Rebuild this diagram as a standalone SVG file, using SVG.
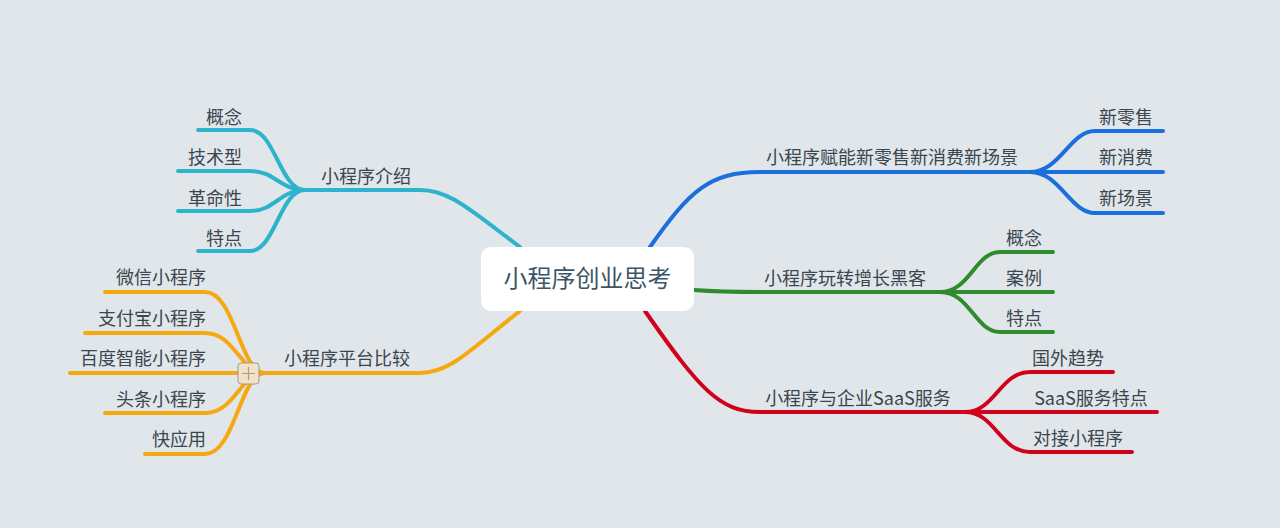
<svg xmlns="http://www.w3.org/2000/svg" width="1280" height="528" viewBox="0 0 1280 528">
<style>
.c{fill:none;stroke-width:4;stroke-linecap:round}
.t{font-family:"Noto Sans CJK SC","Noto Sans",sans-serif;font-size:18px;fill:#3a4650}
.b{stroke:#1a6fdc}.g{stroke:#2e8b2e}.r{stroke:#d0021b}.y{stroke:#f5a80f}.k{stroke:#2db3cc}
</style>
<rect width="1280" height="528" fill="#e1e6ea"/>
<g id="connectors">
<path class="c b" d="M650,247 C690,190 710,172 760,172 L1030,172"/>
<path class="c b" d="M1030,172 C1060,172 1070,131 1095,131 L1163,131 M1030,172 L1163,172 M1030,172 C1060,172 1070,213 1095,213 L1163,213"/>
<path class="c g" d="M694,290 C720,292 740,292 760,292 L940,292"/>
<path class="c g" d="M940,292 C970,292 975,252 1000,252 L1053,252 M940,292 L1053,292 M940,292 C970,292 975,332 1000,332 L1053,332"/>
<path class="c r" d="M645,311 C700,390 720,412 760,412 L965,412"/>
<path class="c r" d="M965,412 C995,412 1000,372 1030,372 L1113,372 M965,412 L1157,412 M965,412 C995,412 1000,452 1030,452 L1132,452"/>
<path class="c k" d="M520,247 C470,210 450,190 420,190 L305,190"/>
<path class="c k" d="M305,190 C280,190 275,130 250,130 L198,130 M305,190 C280,190 275,171 250,171 L178,171 M305,190 C280,190 275,211 250,211 L178,211 M305,190 C280,190 275,251 250,251 L198,251"/>
<path class="c y" d="M520,311 C470,350 450,373 420,373 L265,373"/>
<path class="c y" d="M265,373 C240,373 235,292 205,292 L105,292 M265,373 C240,373 235,333 205,333 L85,333 M265,373 L70,373 M265,373 C240,373 235,413 205,413 L105,413 M265,373 C240,373 235,454 205,454 L145,454"/>
</g>
<g id="root"><rect x="481" y="247" width="213" height="64" rx="10" fill="#fff"/><text x="587.5" y="287" text-anchor="middle" font-family="Noto Sans CJK SC,sans-serif" font-size="24" fill="#3d5566">小程序创业思考</text></g>
<g id="b1"><text class="t" x="892" y="164" text-anchor="middle">小程序赋能新零售新消费新场景</text></g>
<g id="b1a"><text class="t" x="1126" y="124" text-anchor="middle">新零售</text></g>
<g id="b1b"><text class="t" x="1126" y="164" text-anchor="middle">新消费</text></g>
<g id="b1c"><text class="t" x="1126" y="205" text-anchor="middle">新场景</text></g>
<g id="b2"><text class="t" x="845" y="285" text-anchor="middle">小程序玩转增长黑客</text></g>
<g id="b2a"><text class="t" x="1024" y="245" text-anchor="middle">概念</text></g>
<g id="b2b"><text class="t" x="1024" y="285" text-anchor="middle">案例</text></g>
<g id="b2c"><text class="t" x="1024" y="325" text-anchor="middle">特点</text></g>
<g id="b3"><text class="t" x="858" y="405" text-anchor="middle">小程序与企业SaaS服务</text></g>
<g id="b3a"><text class="t" x="1068" y="365" text-anchor="middle">国外趋势</text></g>
<g id="b3b"><text class="t" x="1091" y="405" text-anchor="middle">SaaS服务特点</text></g>
<g id="b3c"><text class="t" x="1078" y="445" text-anchor="middle">对接小程序</text></g>
<g id="b4"><text class="t" x="366" y="183" text-anchor="middle">小程序介绍</text></g>
<g id="b4a"><text class="t" x="224" y="124" text-anchor="middle">概念</text></g>
<g id="b4b"><text class="t" x="215" y="164" text-anchor="middle">技术型</text></g>
<g id="b4c"><text class="t" x="215" y="205" text-anchor="middle">革命性</text></g>
<g id="b4d"><text class="t" x="224" y="245" text-anchor="middle">特点</text></g>
<g id="b5"><text class="t" x="347" y="365" text-anchor="middle">小程序平台比较</text></g>
<g id="b5a"><text class="t" x="161" y="284" text-anchor="middle">微信小程序</text></g>
<g id="b5b"><text class="t" x="152" y="325" text-anchor="middle">支付宝小程序</text></g>
<g id="b5c"><text class="t" x="143" y="365" text-anchor="middle">百度智能小程序</text></g>
<g id="b5d"><text class="t" x="161" y="406" text-anchor="middle">头条小程序</text></g>
<g id="b5e"><text class="t" x="179" y="446" text-anchor="middle">快应用</text></g>
<g id="plus"><rect x="238" y="363" width="21" height="21" rx="3" fill="#f3e2c8" stroke="#999" stroke-width="1"/><path d="M248.5,367 V380 M242,373.5 H255" stroke="#b09a80" stroke-width="1.2"/></g>
</svg>
